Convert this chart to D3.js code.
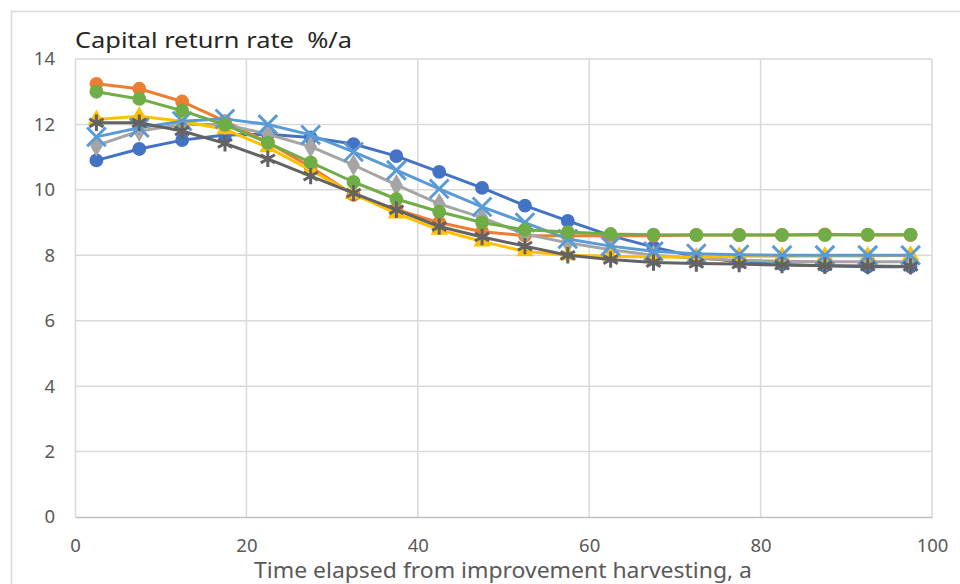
<!DOCTYPE html>
<html><head><meta charset="utf-8">
<script src="https://cdn.jsdelivr.net/npm/d3@7"></script>
<style>body{margin:0;background:#fff}svg{display:block}</style>
</head><body>
<svg id="c" width="960" height="584"></svg>
<script>
const years = [2.5,7.5,12.5,17.5,22.5,27.5,32.5,37.5,42.5,47.5,52.5,57.5,62.5,67.5,72.5,77.5,82.5,87.5,92.5,97.5];
const blueValues      = [10.9,11.25,11.52,11.68,11.7,11.6,11.4,11.03,10.55,10.06,9.52,9.05,8.6,8.25,7.95,7.8,7.72,7.68,7.65,7.65];
const orangeValues    = [13.24,13.09,12.7,12.1,11.45,10.7,9.85,9.4,9.0,8.72,8.6,8.6,8.6,8.6,8.62,8.62,8.62,8.64,8.62,8.62];
const grayValues      = [11.35,11.8,12.0,12.0,11.7,11.32,10.76,10.15,9.57,9.15,8.65,8.38,8.17,8.0,7.9,7.85,7.82,7.8,7.8,7.8];
const yellowValues    = [12.15,12.25,12.1,11.85,11.3,10.6,9.87,9.28,8.78,8.42,8.12,8.0,7.97,7.95,7.95,7.97,7.97,7.98,7.98,8.0];
const lightBlueValues = [11.62,11.9,12.1,12.17,12.0,11.68,11.16,10.6,10.03,9.48,9.0,8.5,8.28,8.12,8.05,8.02,8.0,8.0,8.0,8.0];
const greenValues     = [13.0,12.78,12.42,11.99,11.44,10.84,10.24,9.72,9.33,9.0,8.78,8.71,8.65,8.63,8.62,8.62,8.62,8.62,8.63,8.63];
const darkGrayValues  = [12.05,12.05,11.8,11.42,10.95,10.42,9.9,9.39,8.88,8.56,8.28,8.0,7.87,7.78,7.75,7.73,7.7,7.68,7.67,7.66];
const xTicks = [0,20,40,60,80,100];
const yTicks = [0,2,4,6,8,10,12,14];
const titleText = "Capital return rate  %/a";
const xTitleText = "Time elapsed from improvement harvesting, a";

const series = [
  {values: blueValues, color: "#4472C4", marker: "circle"},
  {values: orangeValues, color: "#ED7D31", marker: "circle"},
  {values: grayValues, color: "#A5A5A5", marker: "diamond"},
  {values: yellowValues, color: "#FFC000", marker: "triangle"},
  {values: lightBlueValues, color: "#5B9BD5", marker: "x"},
  {values: greenValues, color: "#70AD47", marker: "circle"},
  {values: darkGrayValues, color: "#636363", marker: "star"}
];

const svg = d3.select("#c");
const font = "'Noto Sans', 'Liberation Sans', sans-serif";
svg.append("rect").attr("x",11.5).attr("y",11.5).attr("width",970).attr("height",600)
  .attr("fill","#fff").attr("stroke","#d9d9d9").attr("stroke-width",1.5);

const x = d3.scaleLinear().domain([0,100]).range([75,932]);
const y = d3.scaleLinear().domain([0,14]).range([517,59]);

// gridlines
const g = svg.append("g");
g.selectAll("line.h").data(yTicks.filter(d=>d>0)).join("line")
  .attr("x1",x(0)).attr("x2",x(100)).attr("y1",d=>y(d)).attr("y2",d=>y(d))
  .attr("stroke","#d9d9d9").attr("stroke-width",1.5);
g.selectAll("line.v").data(xTicks.filter(d=>d>0)).join("line")
  .attr("x1",d=>x(d)).attr("x2",d=>x(d)).attr("y1",y(0)).attr("y2",y(14))
  .attr("stroke","#d9d9d9").attr("stroke-width",1.5);

// axes
const xAxis = svg.append("g").attr("transform",`translate(0,${y(0)})`)
  .call(d3.axisBottom(x).tickValues(xTicks).tickSize(0).tickPadding(22));
xAxis.select(".domain").attr("stroke","#bfbfbf").attr("stroke-width",1.5);
xAxis.selectAll("text").attr("font-family",font).attr("font-size",18.5).attr("fill","#595959");
const yAxis = svg.append("g").attr("transform",`translate(${x(0)},0)`)
  .call(d3.axisLeft(y).tickValues(yTicks).tickSize(0).tickPadding(20));
yAxis.select(".domain").attr("stroke","#d9d9d9").attr("stroke-width",1.5);
yAxis.selectAll("text").attr("font-family",font).attr("font-size",18.5).attr("fill","#595959");

// titles
svg.append("text").attr("x",75).attr("y",48).text(titleText)
  .style("white-space","pre")
  .attr("font-family",font).attr("font-size",22).attr("fill","#262626")
  .attr("textLength",277).attr("lengthAdjust","spacingAndGlyphs");
svg.append("text").attr("x",503).attr("y",578).attr("text-anchor","middle").text(xTitleText)
  .attr("font-family",font).attr("font-size",21).attr("fill","#595959")
  .attr("textLength",498).attr("lengthAdjust","spacingAndGlyphs");

const line = d3.line().x((d,i)=>x(years[i])).y(d=>y(d));
const symMap = {
  circle: d3.symbolCircle, diamond: d3.symbolDiamond, triangle: d3.symbolTriangle,
  x: d3.symbolX, star: d3.symbolAsterisk
};
series.forEach(s=>{
  const sg = svg.append("g");
  sg.append("path").attr("d",line(s.values)).attr("fill","none")
    .attr("stroke",s.color).attr("stroke-width",3).attr("stroke-linejoin","round");
  const pts = sg.selectAll("path.m").data(s.values).join("path")
    .attr("transform",(d,i)=>`translate(${x(years[i])},${y(d)})`);
  if (s.marker==="circle") pts.attr("d",d3.symbol(symMap.circle,150)()).attr("fill",s.color);
  else if (s.marker==="diamond") pts.attr("d",d3.symbol(symMap.diamond,140)()).attr("fill",s.color);
  else if (s.marker==="triangle") pts.attr("d",d3.symbol(symMap.triangle,130)()).attr("fill",s.color);
  else if (s.marker==="x") pts.attr("d",d3.symbol(symMap.x,230)()).attr("fill","none").attr("stroke",s.color).attr("stroke-width",3);
  else pts.attr("d",d3.symbol(symMap.star,190)()).attr("fill","none").attr("stroke",s.color).attr("stroke-width",3);
});
</script>
</body></html>
